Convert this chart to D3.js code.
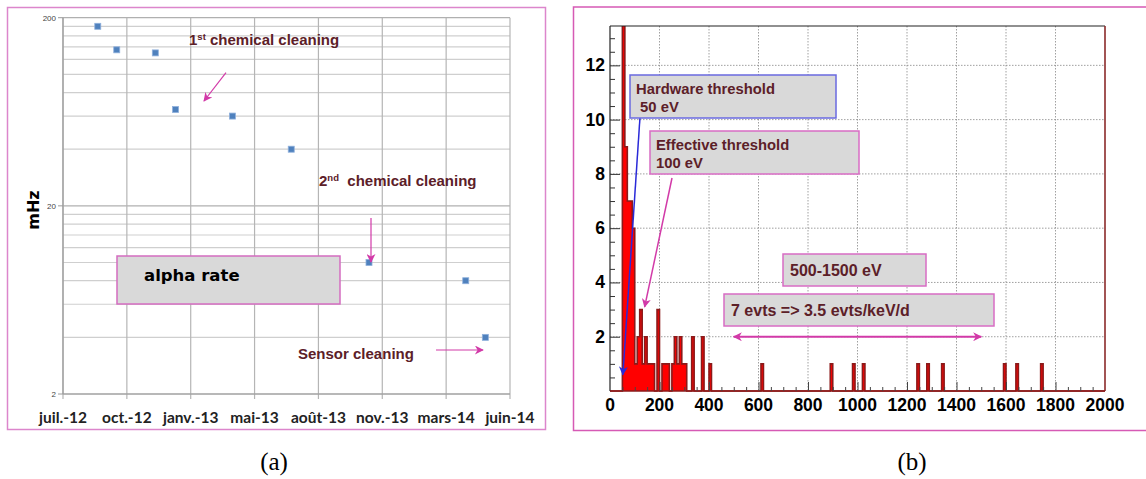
<!DOCTYPE html>
<html>
<head>
<meta charset="utf-8">
<script src="https://cdn.jsdelivr.net/npm/d3@7"></script>
<style>
    body { margin: 0; background: #fff; }
</style>
</head>
<body>
<script>
// panel (a) : alpha rate
const rateDates = ['2012-08-29', '2012-09-28', '2012-11-28', '2012-12-30', '2013-03-30', '2013-07-01', '2013-11-01', '2014-04-03', '2014-05-04']
const rateValues = [180, 135, 130, 65, 60, 40, 10, 8, 4]
const dateTicks = ['2012-07-05', '2012-10-14', '2013-01-23', '2013-05-04', '2013-08-13', '2013-11-22', '2014-03-03', '2014-06-12']
const dateTickLabels = ['juil.-12', 'oct.-12', 'janv.-13', 'mai-13', 'août-13', 'nov.-13', 'mars-14', 'juin-14']
const rateTicks = [2, 20, 200]
const rateGrid = [2, 4, 6, 8, 10, 12, 14, 16, 18, 20, 40, 60, 80, 100, 120, 140, 160, 180, 200]

// panel (b) : energy spectrum, 10 eV bins (low edge -> counts)
const binWidth = 10
const binLow = [50, 60, 70, 80, 90, 100, 110, 120, 130, 140, 150, 160, 170, 190, 210, 220, 230, 250, 260, 270, 280, 290, 300, 330, 370, 400, 610, 890, 980, 1020, 1240, 1280, 1340, 1590, 1640, 1740]
const binCounts = [14, 9, 7, 7, 6, 1, 2, 3, 1, 2, 1, 1, 1, 3, 1, 1, 1, 1, 2, 1, 2, 1, 1, 2, 2, 1, 1, 1, 1, 1, 1, 1, 1, 1, 1, 1]
const energyTicks = [0, 200, 400, 600, 800, 1000, 1200, 1400, 1600, 1800, 2000]
const countTicks = [2, 4, 6, 8, 10, 12]

const parse = d3.timeParse('%Y-%m-%d')
const maroon = '#5c2028'
const magenta = '#d23aa8'

const svg = d3.select('body').append('svg')
    .attr('width', 1146)
    .attr('height', 479)
    .attr('font-family', '"Liberation Sans", Arial, sans-serif')

const defs = svg.append('defs')
const addMarker = (id, color, w, h) => {
    defs.append('marker')
        .attr('id', id)
        .attr('viewBox', '0 0 10 10')
        .attr('refX', 9).attr('refY', 5)
        .attr('markerWidth', w).attr('markerHeight', h)
        .attr('markerUnits', 'userSpaceOnUse')
        .attr('orient', 'auto-start-reverse')
        .append('path')
        .attr('d', 'M0,0 L10,5 L0,10 L3,5 Z')
        .attr('fill', color)
}
addMarker('arrMag', magenta, 10, 9)
addMarker('arrBlue', '#2a2ad8', 10, 9)

// ---------------- panel (a) ----------------
svg.append('rect')
    .attr('x', 7.5).attr('y', 7.5).attr('width', 538).attr('height', 422)
    .attr('fill', 'none').attr('stroke', '#dc86cc').attr('stroke-width', 1.5)

const xa = d3.scaleTime()
    .domain([parse(dateTicks[0]), parse(dateTicks[dateTicks.length - 1])])
    .range([63, 510])

const ya = d3.scaleLog()
    .domain([2, 200])
    .range([394, 17.7])

const ga = svg.append('g')

ga.append('g').selectAll('line')
    .data(rateGrid)
    .enter()
    .append('line')
        .attr('x1', 63).attr('x2', 510)
        .attr('y1', d => ya(d)).attr('y2', d => ya(d))
        .attr('stroke', d => rateTicks.includes(d) ? '#b0b0b0' : '#cfcfcf')
        .attr('stroke-width', 1.2)

ga.append('g').selectAll('line')
    .data(dateTicks)
    .enter()
    .append('line')
        .attr('x1', d => xa(parse(d))).attr('x2', d => xa(parse(d)))
        .attr('y1', 17.7).attr('y2', 399)
        .attr('stroke', '#b5b5b5')
        .attr('stroke-width', 1.2)

ga.append('line')
    .attr('x1', 63).attr('x2', 63).attr('y1', 17.7).attr('y2', 394)
    .attr('stroke', '#9a9a9a').attr('stroke-width', 1.2)

ga.append('line')
    .attr('x1', 63).attr('x2', 510).attr('y1', 394).attr('y2', 394)
    .attr('stroke', '#9a9a9a').attr('stroke-width', 1.2)

ga.append('g').selectAll('g')
    .data(rateTicks)
    .enter()
    .append('g')
    .each(function (d) {
        const g = d3.select(this)
        g.append('line')
            .attr('x1', 58).attr('x2', 63).attr('y1', ya(d)).attr('y2', ya(d))
            .attr('stroke', '#9a9a9a')
        g.append('text')
            .attr('x', 56).attr('y', ya(d) + 3)
            .attr('text-anchor', 'end')
            .attr('font-size', 8)
            .attr('fill', '#444')
            .text(d)
    })

ga.append('g').selectAll('text')
    .data(dateTicks)
    .enter()
    .append('text')
        .attr('x', d => xa(parse(d)))
        .attr('y', 423)
        .attr('text-anchor', 'middle')
        .attr('font-family', 'Lato, sans-serif')
        .attr('font-weight', 'bold')
        .attr('font-size', 15.5)
        .attr('fill', '#222')
        .text((d, i) => dateTickLabels[i])

ga.append('text')
    .attr('transform', 'translate(39, 210) rotate(-90)')
    .attr('text-anchor', 'middle')
    .attr('font-family', '"DejaVu Sans", sans-serif')
    .attr('font-weight', 'bold')
    .attr('font-size', 16)
    .text('mHz')

ga.append('g').selectAll('rect')
    .data(rateValues)
    .enter()
    .append('rect')
        .attr('x', (d, i) => xa(parse(rateDates[i])) - 3)
        .attr('y', d => ya(d) - 3)
        .attr('width', 6).attr('height', 6)
        .attr('fill', '#4f81bd')
        .attr('stroke', '#8fb0dc')
        .attr('stroke-width', 0.8)

// alpha rate box
ga.append('rect')
    .attr('x', 117).attr('y', 256).attr('width', 223).attr('height', 48)
    .attr('fill', '#d9d9d9').attr('stroke', '#d46cc0').attr('stroke-width', 1.5)
ga.append('text')
    .attr('x', 144).attr('y', 281)
    .attr('font-family', '"DejaVu Sans", sans-serif')
    .attr('font-weight', 'bold').attr('font-size', 16.5)
    .text('alpha rate')

const t1 = ga.append('text')
    .attr('x', 189).attr('y', 45)
    .attr('font-weight', 'bold').attr('font-size', 15).attr('fill', maroon)
t1.append('tspan').text('1')
t1.append('tspan').attr('font-size', 9.5).attr('dy', -5).text('st')
t1.append('tspan').attr('dy', 5).text(' chemical cleaning')

const t2 = ga.append('text')
    .attr('x', 319).attr('y', 186)
    .attr('font-weight', 'bold').attr('font-size', 15).attr('fill', maroon)
    .attr('xml:space', 'preserve')
t2.append('tspan').text('2')
t2.append('tspan').attr('font-size', 9.5).attr('dy', -5).text('nd')
t2.append('tspan').attr('dy', 5).text('  chemical cleaning')

ga.append('text')
    .attr('x', 298).attr('y', 359)
    .attr('font-weight', 'bold').attr('font-size', 15).attr('fill', maroon)
    .text('Sensor cleaning')

const arrowsA = [[226, 72.7, 204, 101], [371, 218, 371, 262], [436, 350, 483, 350]]
ga.append('g').selectAll('line')
    .data(arrowsA)
    .enter()
    .append('line')
        .attr('x1', d => d[0]).attr('y1', d => d[1])
        .attr('x2', d => d[2]).attr('y2', d => d[3])
        .attr('stroke', magenta).attr('stroke-width', 1.2)
        .attr('marker-end', 'url(#arrMag)')

// ---------------- panel (b) ----------------
svg.append('rect')
    .attr('x', 573.5).attr('y', 7).attr('width', 600).attr('height', 423.5)
    .attr('fill', 'none').attr('stroke', '#d65ab5').attr('stroke-width', 1.5)

const xb = d3.scaleLinear().domain([0, 2000]).range([610, 1105])
const yb = d3.scaleLinear().domain([0, 13.45]).range([391, 26])

const gb = svg.append('g')

defs.append('clipPath').attr('id', 'plotB')
    .append('rect').attr('x', 610).attr('y', 26).attr('width', 495).attr('height', 366)

// grid
gb.append('g').selectAll('line')
    .data(energyTicks.slice(1, -1))
    .enter()
    .append('line')
        .attr('x1', d => xb(d)).attr('x2', d => xb(d))
        .attr('y1', 26).attr('y2', 391)
        .attr('stroke', '#888').attr('stroke-width', 0.8)
        .attr('stroke-dasharray', '1.5,1.5')

gb.append('g').selectAll('line')
    .data(countTicks)
    .enter()
    .append('line')
        .attr('x1', 610).attr('x2', 1105)
        .attr('y1', d => yb(d)).attr('y2', d => yb(d))
        .attr('stroke', '#888').attr('stroke-width', 0.8)
        .attr('stroke-dasharray', '1.5,1.5')

// histogram, full bin list built from the non-empty bins
const bins = d3.range(0, 2000, binWidth).map(e => {
    const k = binLow.indexOf(e)
    return { e, v: k < 0 ? 0 : binCounts[k] }
})
bins.push({ e: 2000, v: 0 })

const histArea = d3.area()
    .x(d => xb(d.e))
    .y0(yb(0))
    .y1(d => yb(d.v))
    .curve(d3.curveStepAfter)

const histLine = d3.line()
    .x(d => xb(d.e))
    .y(d => yb(d.v))
    .curve(d3.curveStepAfter)

const hist = gb.append('g').attr('clip-path', 'url(#plotB)')
hist.append('path')
    .datum(bins)
    .attr('d', histArea)
    .attr('fill', '#ff0000')
hist.append('path')
    .datum(bins)
    .attr('d', histLine)
    .attr('fill', 'none')
    .attr('stroke', '#8b1a1a')
    .attr('stroke-width', 1.6)

// frame
gb.append('line').attr('x1', 610).attr('x2', 1105).attr('y1', 26).attr('y2', 26)
    .attr('stroke', '#222').attr('stroke-width', 1.2)
gb.append('line').attr('x1', 610).attr('x2', 610).attr('y1', 26).attr('y2', 391)
    .attr('stroke', '#222').attr('stroke-width', 1.2)
gb.append('line').attr('x1', 1105).attr('x2', 1105).attr('y1', 26).attr('y2', 391)
    .attr('stroke', '#8b2a2a').attr('stroke-width', 1.6)
gb.append('line').attr('x1', 610).attr('x2', 1105).attr('y1', 391).attr('y2', 391)
    .attr('stroke', '#8b1a1a').attr('stroke-width', 1.6)

// axes with inward ticks
const yAxisB = d3.axisRight(yb)
    .tickValues(d3.range(0.5, 13.5, 0.5))
    .tickSize(5)
    .tickFormat('')
gb.append('g')
    .attr('transform', 'translate(610,0)')
    .call(yAxisB)
    .call(g => g.select('.domain').remove())
    .call(g => g.selectAll('.tick line')
        .attr('x2', d => d % 2 === 0 ? 10 : 5)
        .attr('stroke', '#333'))

gb.append('g').selectAll('text')
    .data(countTicks)
    .enter()
    .append('text')
        .attr('x', 605).attr('y', d => yb(d) + 6)
        .attr('text-anchor', 'end')
        .attr('font-weight', 'bold').attr('font-size', 17.5)
        .text(d => d)

const xAxisB = d3.axisTop(xb)
    .tickValues(d3.range(50, 2000, 50))
    .tickSize(4)
    .tickFormat('')
gb.append('g')
    .attr('transform', 'translate(0,391)')
    .call(xAxisB)
    .call(g => g.select('.domain').remove())
    .call(g => g.selectAll('.tick line')
        .attr('y2', d => d % 200 === 0 ? -9 : -4)
        .attr('stroke', '#444'))

gb.append('g').selectAll('text')
    .data(energyTicks)
    .enter()
    .append('text')
        .attr('x', d => xb(d)).attr('y', 411)
        .attr('text-anchor', 'middle')
        .attr('font-weight', 'bold').attr('font-size', 17.5)
        .text(d => d)

// annotations
const boxText = (x, y, w, h, stroke, lines, size, tx, ty, lh) => {
    gb.append('rect')
        .attr('x', x).attr('y', y).attr('width', w).attr('height', h)
        .attr('fill', '#d9d9d9').attr('stroke', stroke).attr('stroke-width', 1.5)
    lines.forEach((s, i) => {
        gb.append('text')
            .attr('x', tx).attr('y', ty + i * lh)
            .attr('font-weight', 'bold').attr('font-size', size)
            .attr('fill', maroon)
            .attr('xml:space', 'preserve')
            .text(s)
    })
}

gb.append('line')
    .attr('x1', 640).attr('y1', 117).attr('x2', xb(52)).attr('y2', yb(0.6))
    .attr('stroke', '#2a2ad8').attr('stroke-width', 1.5)
    .attr('marker-end', 'url(#arrBlue)')
gb.append('line')
    .attr('x1', 672).attr('y1', 178).attr('x2', xb(140)).attr('y2', yb(3.1))
    .attr('stroke', magenta).attr('stroke-width', 1.5)
    .attr('marker-end', 'url(#arrMag)')

boxText(630, 75, 206, 43, '#6a6ae0', ['Hardware threshold', ' 50 eV'], 14.8, 636, 94, 18)
boxText(650, 131, 209, 43, '#d86cc4', ['Effective threshold', '100 eV'], 14.8, 656, 150, 18)
boxText(783, 254, 143, 32, '#d86cc4', ['500-1500 eV'], 16, 790, 276, 0)
boxText(724, 294, 270, 32, '#d86cc4', ['7 evts => 3.5 evts/keV/d'], 16, 731, 316, 0)

gb.append('line')
    .attr('x1', xb(500)).attr('x2', xb(1500))
    .attr('y1', yb(2)).attr('y2', yb(2))
    .attr('stroke', magenta).attr('stroke-width', 2)
    .attr('marker-start', 'url(#arrMag)')
    .attr('marker-end', 'url(#arrMag)')

// captions
const captions = [['(a)', 274], ['(b)', 912]]
svg.append('g').selectAll('text')
    .data(captions)
    .enter()
    .append('text')
        .attr('x', d => d[1]).attr('y', 470)
        .attr('text-anchor', 'middle')
        .attr('font-family', '"Liberation Serif", serif')
        .attr('font-size', 25)
        .text(d => d[0])
</script>
</body>
</html>
